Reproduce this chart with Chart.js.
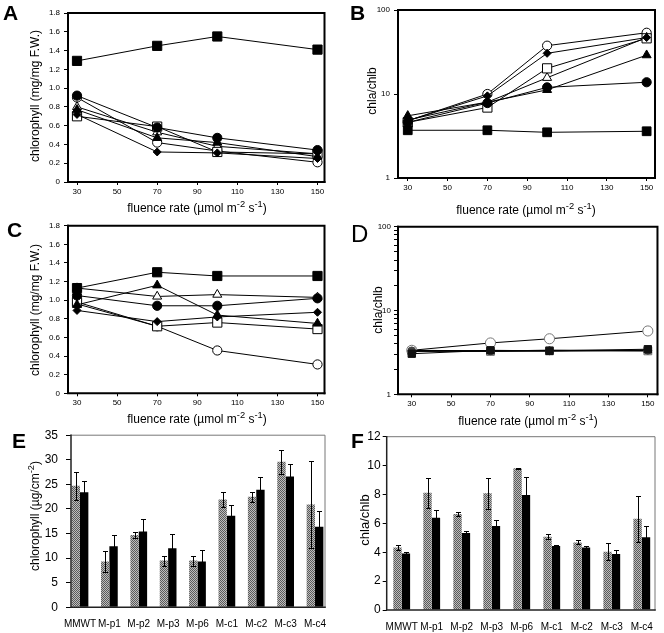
<!DOCTYPE html>
<html>
<head>
<meta charset="utf-8">
<script src="https://cdn.jsdelivr.net/npm/chart.js@4"></script>
<style>
  body { margin: 0; background: #fff; width: 664px; height: 633px; position: relative; overflow: hidden;
         font-family: "Liberation Sans", Arial, Helvetica, sans-serif; color: #000; }
  canvas { position: absolute; }
  .t { position: absolute; font-size: 12px; line-height: 1; white-space: nowrap; transform: translate(-50%, -50%); z-index: 2; }
  .y { transform: translate(-50%, -50%) rotate(-90deg); }
  .t sup { font-size: 0.78em; line-height: 0; vertical-align: 0.5em; }
  .L { position: absolute; font-size: 21px; font-weight: bold; line-height: 1; z-index: 2; }
</style>
</head>
<body>
<canvas id="cA" width="332" height="215" style="left:0;top:0"></canvas>
<canvas id="cB" width="332" height="215" style="left:332px;top:0"></canvas>
<canvas id="cC" width="332" height="215" style="left:0;top:215px"></canvas>
<canvas id="cD" width="332" height="215" style="left:332px;top:215px"></canvas>
<canvas id="cE" width="332" height="213" style="left:0;top:420px"></canvas>
<canvas id="cF" width="332" height="213" style="left:332px;top:420px"></canvas>

<div class="L" style="left:3px;top:2px">A</div>
<div class="L" style="left:350px;top:2px">B</div>
<div class="L" style="left:7px;top:219px">C</div>
<div class="L" style="left:351px;top:222px;font-weight:normal;font-size:24px">D</div>
<div class="L" style="left:12px;top:430px">E</div>
<div class="L" style="left:351px;top:430px">F</div>

<div class="t y" style="left:35px;top:96px">chlorophyll (mg/mg F.W.)</div>
<div class="t" style="left:197px;top:208px">fluence rate (µmol m<sup>-2</sup> s<sup>-1</sup>)</div>
<div class="t y" style="left:372px;top:91px">chla/chlb</div>
<div class="t" style="left:526px;top:210px">fluence rate (µmol m<sup>-2</sup> s<sup>-1</sup>)</div>
<div class="t y" style="left:35px;top:310px">chlorophyll (mg/mg F.W.)</div>
<div class="t" style="left:197px;top:419px">fluence rate (µmol m<sup>-2</sup> s<sup>-1</sup>)</div>
<div class="t y" style="left:378px;top:310px">chla/chlb</div>
<div class="t" style="left:528px;top:421px">fluence rate (µmol m<sup>-2</sup> s<sup>-1</sup>)</div>
<div class="t y" style="left:35px;top:516px">chlorophyll (µg/cm<sup>-2</sup>)</div>
<div class="t y" style="left:364px;top:520px;font-size:13px">chla/chlb</div>

<script>
// shared x values and tick labels
const fluence = [30, 70, 100, 150];
const fluenceTicks = [30, 50, 70, 90, 110, 130, 150];

// A: chlorophyll (mg/mg F.W.)
const aFilledSquare = [1.29, 1.45, 1.55, 1.41];
const aFilledCircle = [0.92, 0.58, 0.47, 0.34];
const aFilledDiamond = [0.72, 0.32, 0.31, 0.25];
const aFilledTriangle = [0.77, 0.47, 0.42, 0.27];
const aOpenSquare = [0.70, 0.59, 0.32, 0.30];
const aOpenTriangle = [0.80, 0.53, 0.38, 0.30];
const aOpenCircle = [0.90, 0.42, 0.33, 0.21];

// B: chla/chlb (log)
const bFilledSquare = [3.7, 3.7, 3.5, 3.6];
const bFilledCircle = [4.6, 7.8, 12.0, 13.8];
const bFilledDiamond = [4.8, 9.5, 30.5, 47];
const bFilledTriangle = [5.5, 8.0, 11.2, 29];
const bOpenSquare = [4.6, 6.9, 20.2, 46];
const bOpenTriangle = [4.9, 8.0, 15.6, 47];
const bOpenCircle = [4.8, 10.0, 37.6, 53.6];

// C: chlorophyll (mg/mg F.W.)
const cFilledSquare = [1.13, 1.30, 1.26, 1.26];
const cFilledCircle = [1.05, 0.94, 0.94, 1.02];
const cFilledDiamond = [0.89, 0.77, 0.82, 0.87];
const cFilledTriangle = [0.95, 1.16, 0.84, 0.75];
const cOpenSquare = [0.98, 0.72, 0.76, 0.69];
const cOpenTriangle = [1.13, 1.04, 1.06, 1.03];
const cOpenCircle = [0.96, 0.72, 0.46, 0.31];

// D: chla/chlb (log)
const dFilledSquare = [3.05, 3.35, 3.3, 3.45];
const dFilledCircle = [3.3, 3.3, 3.3, 3.35];
const dFilledDiamond = [3.3, 3.3, 3.35, 3.35];
const dFilledTriangle = [3.25, 3.3, 3.3, 3.35];
const dOpenCircle = [3.35, 4.1, 4.6, 5.7];
const dOpenSquare = [3.3, 3.25, 3.3, 3.3];
const dOpenTriangle = [3.35, 3.3, 3.35, 3.3];

// E and F: strains, means and error (+/-)
const strains = ['MMWT', 'M-p1', 'M-p2', 'M-p3', 'M-p6', 'M-c1', 'M-c2', 'M-c3', 'M-c4'];
const eGray = [24.7, 9.3, 14.7, 9.5, 9.5, 21.9, 22.5, 29.6, 20.9];
const eGrayErr = [2.9, 2.1, 0.7, 1.0, 1.0, 1.6, 1.0, 2.4, 8.9];
const eBlack = [23.4, 12.4, 15.4, 12.0, 9.3, 18.6, 23.9, 26.6, 16.4];
const eBlackErr = [2.2, 2.3, 2.5, 2.9, 2.4, 2.3, 2.7, 2.5, 3.2];
const fGray = [4.32, 8.12, 6.65, 8.08, 9.81, 5.08, 4.68, 4.04, 6.32];
const fGrayErr = [0.15, 1.04, 0.16, 1.08, 0.05, 0.16, 0.14, 0.58, 1.6];
const fBlack = [3.92, 6.39, 5.33, 5.82, 7.96, 4.43, 4.32, 3.88, 5.03];
const fBlackErr = [0.08, 0.53, 0.16, 0.41, 1.27, 0.05, 0.09, 0.27, 0.79];

Chart.defaults.font.family = '"Liberation Sans", Arial, Helvetica, sans-serif';
Chart.defaults.color = '#000';
Chart.defaults.animation = false;
Chart.defaults.plugins.legend.display = false;
Chart.defaults.plugins.tooltip.enabled = false;

const marks = {
  filledSquare:   { style: 'rect',     r: 6.5, fill: true },
  openSquare:     { style: 'rect',     r: 6.5, fill: false },
  filledCircle:   { style: 'circle',   r: 4.6, fill: true },
  openCircle:     { style: 'circle',   r: 4.6, fill: false },
  filledTriangle: { style: 'triangle', r: 5.2, fill: true },
  openTriangle:   { style: 'triangle', r: 5.2, fill: false },
  filledDiamond:  { style: 'rectRot',  r: 4,   fill: true }
};

function lineSet(values, mark, scale = 1, tone = '#000') {
  const m = marks[mark];
  return {
    data: values.map((v, i) => ({ x: fluence[i], y: v })),
    borderColor: '#000',
    borderWidth: 1,
    tension: 0,
    clip: false,
    pointStyle: m.style,
    pointRadius: m.r * scale,
    pointBackgroundColor: m.fill ? tone : '#fff',
    pointBorderColor: tone,
    pointBorderWidth: 1
  };
}

// box round the plot area
const frame = {
  id: 'frame',
  draw(chart, o) {
    const { ctx, chartArea: a } = chart;
    ctx.save();
    ctx.lineCap = 'square';
    ctx.strokeStyle = o.tr[0]; ctx.lineWidth = o.tr[1];
    ctx.beginPath();
    ctx.moveTo(a.left, a.top); ctx.lineTo(a.right, a.top); ctx.lineTo(a.right, a.bottom);
    ctx.stroke();
    ctx.strokeStyle = o.lb[0]; ctx.lineWidth = o.lb[1];
    ctx.beginPath();
    ctx.moveTo(a.left, a.top); ctx.lineTo(a.left, a.bottom); ctx.lineTo(a.right, a.bottom);
    ctx.stroke();
    ctx.restore();
  },
  beforeDatasetsDraw(chart, args, o) { if (!o.after) this.draw(chart, o); },
  afterDatasetsDraw(chart, args, o) { if (o.after) this.draw(chart, o); }
};

const errorBars = {
  id: 'errorBars',
  afterDatasetsDraw(chart) {
    const { ctx } = chart;
    const y = chart.scales.y;
    ctx.save();
    ctx.strokeStyle = '#000';
    ctx.lineWidth = 1;
    chart.data.datasets.forEach((ds, i) => {
      chart.getDatasetMeta(i).data.forEach((bar, j) => {
        const v = ds.data[j].y, e = ds.errors[j];
        const top = Math.round(y.getPixelForValue(v + e)) + 0.5;
        const bot = Math.round(y.getPixelForValue(v - e)) + 0.5;
        const x = Math.round(bar.x) + 0.5;
        ctx.beginPath();
        ctx.moveTo(x, top); ctx.lineTo(x, bot);
        ctx.moveTo(x - 2.5, top); ctx.lineTo(x + 2.5, top);
        ctx.moveTo(x - 2.5, bot); ctx.lineTo(x + 2.5, bot);
        ctx.stroke();
      });
    });
    ctx.restore();
  }
};

function lineChart(id, sets, o) {
  return new Chart(document.getElementById(id), {
    type: 'line',
    data: { datasets: sets },
    options: {
      responsive: false,
      layout: { padding: { top: o.top, right: o.right, left: 0, bottom: 0 } },
      scales: {
        x: {
          type: 'linear', min: o.xMin, max: o.xMax,
          afterBuildTicks: s => { s.ticks = fluenceTicks.map(v => ({ value: v })); },
          afterFit: s => { s.height = o.xh; },
          ticks: { font: { size: 8 }, padding: 2, maxRotation: 0, autoSkip: false, callback: v => String(v) },
          grid: { drawOnChartArea: false, tickLength: 3, tickColor: '#000', tickWidth: 1 },
          border: { display: false }
        },
        y: Object.assign({
          afterFit: s => { s.width = o.yw; },
          grid: { drawOnChartArea: false, tickLength: 4, tickColor: '#000', tickWidth: 1 },
          border: { display: false }
        }, o.y)
      },
      plugins: { frame: { lb: ['#000', 2], tr: ['#000', 2] } }
    },
    plugins: [frame]
  });
}

const chlY = {
  min: 0, max: 1.8,
  ticks: { stepSize: 0.2, font: { size: 8 }, padding: 4, callback: v => v === 0 ? '0' : v.toFixed(1) }
};

lineChart('cA', [
  lineSet(aFilledSquare, 'filledSquare'),
  lineSet(aFilledCircle, 'filledCircle'),
  lineSet(aFilledDiamond, 'filledDiamond'),
  lineSet(aFilledTriangle, 'filledTriangle'),
  lineSet(aOpenSquare, 'openSquare'),
  lineSet(aOpenTriangle, 'openTriangle'),
  lineSet(aOpenCircle, 'openCircle')
], { top: 13, right: 7, yw: 68, xh: 33, xMin: 25.5, xMax: 153.5, y: chlY });

lineChart('cB', [
  lineSet(bFilledSquare, 'filledSquare', 0.95),
  lineSet(bFilledCircle, 'filledCircle'),
  lineSet(bFilledDiamond, 'filledDiamond'),
  lineSet(bFilledTriangle, 'filledTriangle'),
  lineSet(bOpenSquare, 'openSquare'),
  lineSet(bOpenTriangle, 'openTriangle'),
  lineSet(bOpenCircle, 'openCircle')
], {
  top: 10, right: 9, yw: 66, xh: 37, xMin: 25.1, xMax: 154.2,
  y: {
    type: 'logarithmic', min: 1, max: 100,
    afterBuildTicks: s => { s.ticks = [1, 10, 100].map(v => ({ value: v })); },
    ticks: { font: { size: 8 }, padding: 4, callback: v => String(v) }
  }
});

lineChart('cC', [
  lineSet(cFilledSquare, 'filledSquare'),
  lineSet(cFilledCircle, 'filledCircle'),
  lineSet(cFilledDiamond, 'filledDiamond'),
  lineSet(cFilledTriangle, 'filledTriangle'),
  lineSet(cOpenSquare, 'openSquare'),
  lineSet(cOpenTriangle, 'openTriangle'),
  lineSet(cOpenCircle, 'openCircle')
], { top: 10.7, right: 7, yw: 68, xh: 36.7, xMin: 25.5, xMax: 153.5, y: chlY });

const dMinor = [1, 2, 3, 4, 5, 6, 7, 8, 9, 10, 20, 30, 40, 50, 60, 70, 80, 90, 100];
lineChart('cD', [
  lineSet(dFilledSquare, 'filledSquare', 0.8, '#111'),
  lineSet(dFilledCircle, 'filledCircle', 0.85, '#444'),
  lineSet(dFilledDiamond, 'filledDiamond', 0.85, '#444'),
  lineSet(dFilledTriangle, 'filledTriangle', 0.85, '#444'),
  lineSet(dOpenCircle, 'openCircle', 1.1, '#777'),
  lineSet(dOpenSquare, 'openSquare', 0.85, '#666'),
  lineSet(dOpenTriangle, 'openTriangle', 0.8, '#666')
], {
  top: 11.7, right: 6, yw: 66, xh: 35.7, xMin: 23.0, xMax: 154.9,
  y: {
    type: 'logarithmic', min: 1, max: 100,
    afterBuildTicks: s => { s.ticks = dMinor.map(v => ({ value: v })); },
    ticks: { font: { size: 8 }, padding: 3, autoSkip: false,
             callback: v => [1, 10, 100].includes(v) ? String(v) : '' }
  }
});

function stipple() {
  const c = document.createElement('canvas');
  c.width = 2; c.height = 2;
  const g = c.getContext('2d');
  g.fillStyle = '#bdbdbd'; g.fillRect(0, 0, 2, 2);
  g.fillStyle = '#5a5a5a'; g.fillRect(0, 0, 1, 1); g.fillRect(1, 1, 1, 1);
  return g.createPattern(c, 'repeat');
}

// bars sit on a linear index axis so the strain positions match the figure
function barChart(id, gray, grayErr, black, blackErr, o) {
  const pts = vals => vals.map((v, i) => ({ x: i, y: v }));
  return new Chart(document.getElementById(id), {
    type: 'bar',
    data: {
      datasets: [
        { data: pts(gray), errors: grayErr, backgroundColor: stipple(), borderWidth: 0,
          categoryPercentage: o.cat, barPercentage: 1 },
        { data: pts(black), errors: blackErr, backgroundColor: '#000', borderWidth: 0,
          categoryPercentage: o.cat, barPercentage: 1 }
      ]
    },
    options: {
      responsive: false,
      layout: { padding: { top: o.top, right: o.right, left: 0, bottom: 0 } },
      scales: {
        x: {
          type: 'linear', min: o.xMin, max: o.xMax, offset: false,
          afterBuildTicks: s => { s.ticks = strains.map((n, i) => ({ value: i })); },
          afterFit: s => { s.height = o.xh; },
          ticks: { font: { size: 10 }, padding: 3, maxRotation: 0, autoSkip: false,
                   callback: v => strains[v] },
          grid: { display: false },
          border: { display: false }
        },
        y: {
          min: 0, max: o.max,
          afterFit: s => { s.width = o.yw; },
          ticks: { stepSize: o.step, font: { size: 12 }, padding: o.ypad },
          grid: { drawOnChartArea: false, tickLength: o.tl, tickColor: '#000', tickWidth: 1 },
          border: { display: false }
        }
      },
      plugins: { frame: { after: true, lb: ['#222', 1.5], tr: ['#777', 1] } }
    },
    plugins: [frame, errorBars]
  });
}

barChart('cE', eGray, eGrayErr, eBlack, eBlackErr,
  { top: 13.3, right: 7, yw: 71, xh: 25.7, max: 35, step: 5, cat: 0.57, tl: 5, ypad: 8,
    xMin: -0.306, xMax: 8.34 });
barChart('cF', fGray, fGrayErr, fBlack, fBlackErr,
  { top: 16.7, right: 9, yw: 54.7, xh: 23, max: 12, step: 2, cat: 0.56, tl: 4, ypad: 2,
    xMin: -0.5, xMax: 8.44 });
</script>
</body>
</html>
